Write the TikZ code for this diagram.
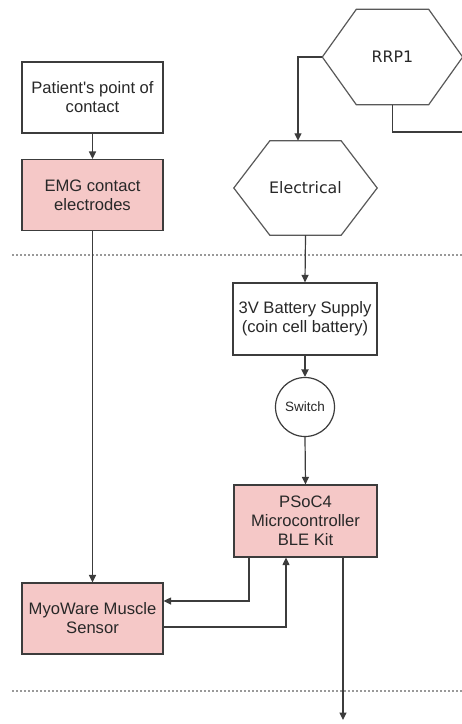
\documentclass[tikz,border=0pt]{standalone}
\usepackage{fontspec}
\setmainfont{Liberation Sans}
\newfontfamily\dejavu{DejaVu Sans}
\usetikzlibrary{arrows.meta,calc}
\definecolor{pinkfill}{RGB}{245,200,199}
\definecolor{linecol}{RGB}{60,60,60}
\definecolor{txtcol}{RGB}{40,40,40}
\tikzset{
  box/.style={draw=linecol, line width=1.2pt, rectangle, minimum width=141pt, minimum height=71pt, inner sep=1pt, align=center, text=txtcol, font=\fontsize{16.6pt}{19pt}\selectfont},
  pinkbox/.style={box, fill=pinkfill},
  hexnode/.style={rectangle, minimum width=140pt, minimum height=95pt, inner sep=0pt, text=txtcol, font=\dejavu\fontsize{15.8pt}{18pt}\selectfont},
  hexline/.style={draw=linecol!85, line width=1.2pt, line join=miter},
  circ/.style={draw=linecol, line width=1.2pt, circle, minimum size=59pt, inner sep=0pt, text=txtcol, font=\fontsize{13.5pt}{15pt}\selectfont},
  conn/.style={draw=linecol, line width=1.2pt},
  arr/.style={conn, -{Triangle[length=7.5pt,width=7pt]}},
  sep/.style={draw=gray!80, line width=1.2pt, dash pattern=on 1.5pt off 2.5pt}
}
\begin{document}
\begin{tikzpicture}[x=1pt,y=-1pt]
\useasboundingbox (0,0) rectangle (462,724);
\fill[white] (0,0) rectangle (462,724);

% separators
\draw[sep] (12,255) -- (462,255);
\draw[sep] (12,691) -- (462,691);

% nodes
\node[box] (patient) at (92.5,97.5) {Patient\textquotesingle s point of\\contact};
\node[pinkbox] (emg) at (92.5,195) {EMG contact\\electrodes};
\node[hexnode] (rrp) at (392.5,57) {RRP1};
\node[hexnode, minimum width=143pt, minimum height=94pt] (elec) at (305.5,188) {Electrical};
\node[box, minimum width=144pt, minimum height=72pt] (batt) at (305,319) {3V Battery Supply\\(coin cell battery)};
\node[circ] (switch) at (305,407) {Switch};
\node[pinkbox, minimum width=143pt, minimum height=72pt] (psoc) at (305.5,521) {PSoC4\\Microcontroller\\BLE Kit};
\node[pinkbox] (myo) at (92.5,618.5) {MyoWare Muscle\\Sensor};

% hexagon outlines
\draw[hexline] (rrp.west) -- ([xshift=34pt]rrp.north west) -- ([xshift=-34pt]rrp.north east) -- (rrp.east) -- ([xshift=-34pt]rrp.south east) -- ([xshift=34pt]rrp.south west) -- cycle;
\draw[hexline] (elec.west) -- ([xshift=36pt]elec.north west) -- ([xshift=-36pt]elec.north east) -- (elec.east) -- ([xshift=-36pt]elec.south east) -- ([xshift=36pt]elec.south west) -- cycle;

% connector end points
\coordinate (rrpout) at (462,132);
\coordinate (down) at (343,720);

% connectors
\draw[arr] (patient.south) -- (emg.north);
\draw[arr] (rrp.west) -| ([xshift=-7.5pt]elec.north);
\draw[conn] (rrp.south) |- (rrpout);
\draw[arr] (elec.south) -- (batt.north);
\draw[arr, line width=2pt] (batt.south) -- (switch.north);
\draw[arr] (switch.south) -- (psoc.north);
\draw[arr] (emg.south) -- (myo.north);
\draw[arr] ([xshift=-56.5pt]psoc.south) |- ([yshift=17.5pt]myo.east);
\draw[arr] ([yshift=-8.5pt]myo.east) -| ([xshift=-19.5pt]psoc.south);
\draw[arr] ([xshift=37.5pt]psoc.south) -- (down);
\end{tikzpicture}
\end{document}
